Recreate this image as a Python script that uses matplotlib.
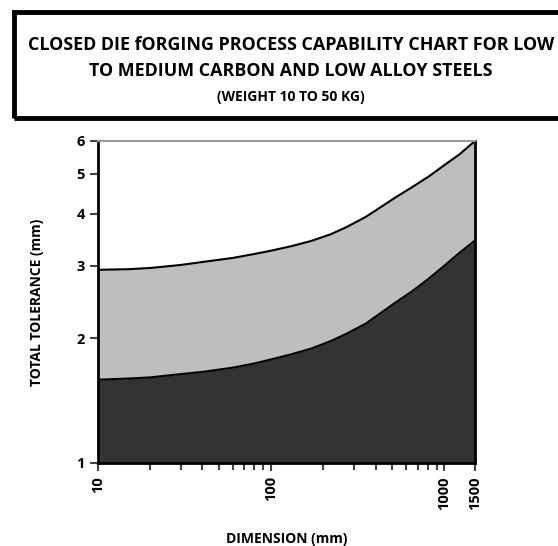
import numpy as np
import matplotlib.pyplot as plt
from matplotlib.patches import Rectangle
from matplotlib.ticker import FixedLocator, NullFormatter, NullLocator

plt.rcParams['font.family'] = ['Open Sans', 'DejaVu Sans']
plt.rcParams['font.weight'] = 'bold'

# valeurs
dimension = [10, 15, 20, 30, 40, 60, 80, 100, 130, 170, 220, 270, 350, 420,
             520, 650, 820, 1000, 1220, 1500]
tol_haute = [2.93, 2.94, 2.96, 3.01, 3.06, 3.13, 3.20, 3.26, 3.34, 3.44, 3.57,
             3.71, 3.93, 4.13, 4.38, 4.64, 4.94, 5.25, 5.57, 6.0]
tol_basse = [1.59, 1.60, 1.61, 1.64, 1.66, 1.70, 1.74, 1.78, 1.83, 1.89, 1.97,
             2.05, 2.17, 2.29, 2.44, 2.60, 2.80, 3.00, 3.22, 3.45]

x_ticks = [10, 100, 1000, 1500]
y_ticks = [1, 2, 3, 4, 5, 6]

titre = ("CLOSED DIE fORGING PROCESS CAPABILITY CHART FOR LOW\n"
         "TO MEDIUM CARBON AND LOW ALLOY STEELS")
sous_titre = "(WEIGHT 10 TO 50 KG)"

fig = plt.figure(figsize=(5.58, 5.46), dpi=100)
W, H = 558, 546
ax = fig.add_axes([98 / W, 1 - 463 / H, (475 - 98) / W, (463 - 141) / H])

# cadre du titre
fig.patches.append(Rectangle((14 / W, 1 - 118 / H), 560 / W, 106 / H,
                             transform=fig.transFigure, fill=False,
                             edgecolor='black', linewidth=3.5))
fig.text(291 / W, 1 - 58 / H, titre, ha='center', va='center', fontsize=12.9,
         fontweight='bold', linespacing=1.55)
fig.text(291 / W, 1 - 97 / H, sous_titre, ha='center', va='center',
         fontsize=10, fontweight='bold')

ax.set_xscale('log')
ax.set_yscale('log')
ax.fill_between(dimension, 1, tol_basse, color='#333333', lw=0)
ax.fill_between(dimension, tol_basse, tol_haute, color='#bebebe', lw=0)
ax.plot(dimension, tol_haute, color='black', lw=1.5)
ax.plot(dimension, tol_basse, color='black', lw=1.5)

ax.set_xlim(10, 1500)
ax.set_ylim(1, 6)

ax.xaxis.set_major_locator(FixedLocator(x_ticks))
ax.set_xticklabels([str(v) for v in x_ticks], rotation=90, fontsize=10.5,
                   fontweight='bold')
minor = [m * 10 ** d for d in (1, 2) for m in range(2, 10)]
ax.xaxis.set_minor_locator(FixedLocator(minor))
ax.xaxis.set_minor_formatter(NullFormatter())

ax.yaxis.set_major_locator(FixedLocator(y_ticks))
ax.set_yticklabels([str(v) for v in y_ticks], fontsize=10.5, fontweight='bold')
ax.yaxis.set_minor_locator(NullLocator())

ax.tick_params(axis='both', which='major', length=6, width=1.5, color='#444444')
ax.tick_params(axis='x', which='minor', length=5, width=1.5, color='#444444')

for s in ['left', 'bottom', 'right']:
    ax.spines[s].set_linewidth(2)
ax.spines['top'].set_color('#999999')
ax.spines['top'].set_linewidth(1.5)

ax.set_xlabel('DIMENSION (mm)', fontsize=10, fontweight='bold', labelpad=16)
ax.set_ylabel('TOTAL TOLERANCE (mm)', fontsize=10, fontweight='bold', labelpad=23)

fig.savefig('out.png', dpi=100)
